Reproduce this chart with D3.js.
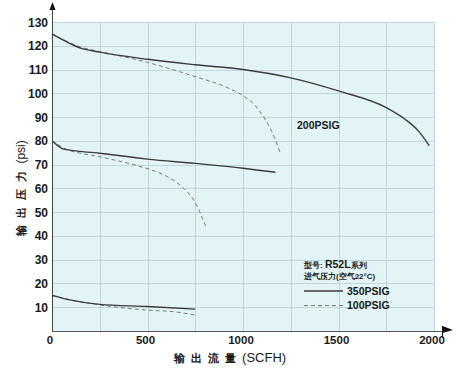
<!DOCTYPE html>
<html>
<head>
<meta charset="utf-8">
<script src="https://cdn.jsdelivr.net/npm/d3@7"></script>
<style>
  body { margin: 0; background: #fff; }
  svg { display: block; font-family: "Liberation Sans", Arial, sans-serif; }
  .grid line { stroke: #c3d6de; stroke-width: 1px; }
  .tick-label { font-weight: bold; fill: #1a1a1a; }
  .s350 { fill: none; stroke: #3c3c3c; stroke-width: 1.4px; }
  .s100 { fill: none; stroke: #7a7a7a; stroke-width: 1px; stroke-dasharray: 4,3; }
</style>
</head>
<body>
<svg width="465" height="374"></svg>
<script>
// output flow (SCFH) / output pressure (psi)
var hi350Flow = [0, 80, 150, 250, 500, 750, 1000, 1250, 1500, 1750, 1850, 1920, 1975];
var hi350Psi  = [125, 121.5, 119, 117.3, 114.3, 112, 110, 106.5, 101, 94, 89, 84, 78];
var hi100Flow = [0, 80, 150, 250, 500, 750, 900, 1000, 1050, 1100, 1150, 1195];
var hi100Psi  = [125, 121.8, 119.5, 117.6, 113, 107, 103, 99, 96, 91, 84, 75];

var mid350Flow = [0, 30, 60, 250, 500, 750, 1000, 1170];
var mid350Psi  = [80, 78, 76.5, 74.8, 72.3, 70.5, 68.5, 66.8];
var mid100Flow = [0, 30, 60, 250, 450, 565, 620, 690, 750, 790, 810];
var mid100Psi  = [80, 78.5, 77, 73.3, 69.5, 66.4, 64.2, 60, 54, 47, 43];

var low350Flow = [0, 100, 250, 500, 750];
var low350Psi  = [15, 13, 11.2, 10.3, 9.2];
var low100Flow = [0, 100, 250, 400, 500, 650, 750];
var low100Psi  = [15, 13, 11, 9.5, 8.8, 8, 6.7];

var xTicks = [0, 500, 1000, 1500, 2000];
var yTicks = [10, 20, 30, 40, 50, 60, 70, 80, 90, 100, 110, 120, 130];

var svg = d3.select("svg");
var plotL = 52, plotR = 434, plotT = 22, plotB = 331;

var x = d3.scaleLinear().domain([0, 2000]).range([plotL, plotR]);
var y = d3.scaleLinear().domain([0, 130]).range([plotB, plotT]);

// plot background
svg.append("rect")
    .attr("x", plotL).attr("y", plotT)
    .attr("width", plotR - plotL).attr("height", plotB - plotT)
    .attr("fill", "#e3f4f6");

var grid = svg.append("g").attr("class", "grid");
grid.selectAll(".v").data(d3.range(250, 2001, 250)).enter().append("line")
    .attr("x1", function(d) { return Math.round(x(d)) + 0.5; })
    .attr("x2", function(d) { return Math.round(x(d)) + 0.5; })
    .attr("y1", plotT).attr("y2", plotB);
grid.selectAll(".h").data(yTicks).enter().append("line")
    .attr("x1", plotL).attr("x2", plotR)
    .attr("y1", function(d) { return Math.round(y(d)) + 0.5; })
    .attr("y2", function(d) { return Math.round(y(d)) + 0.5; });

// axes
svg.append("line")
    .attr("x1", plotL + 0.5).attr("x2", plotL + 0.5)
    .attr("y1", 9).attr("y2", plotB)
    .attr("stroke", "#444").attr("stroke-width", 1);
svg.append("path")
    .attr("d", "M" + (plotL - 2.5) + ",10 L" + (plotL + 0.5) + ",2 L" + (plotL + 3.5) + ",10 Z")
    .attr("fill", "#111");
svg.append("line")
    .attr("x1", plotL).attr("x2", 443)
    .attr("y1", plotB + 0.5).attr("y2", plotB + 0.5)
    .attr("stroke", "#555").attr("stroke-width", 1);
svg.append("path")
    .attr("d", "M442.5,326 L453,330 L442.5,333 Z")
    .attr("fill", "#111");
svg.append("line")
    .attr("x1", 442.5).attr("x2", 442.5)
    .attr("y1", 326).attr("y2", 338)
    .attr("stroke", "#111");

// tick labels
svg.selectAll(".ylab").data(yTicks).enter().append("text")
    .attr("class", "tick-label")
    .attr("font-size", "12px")
    .attr("x", 48)
    .attr("y", function(d) { return y(d) + 4.5; })
    .attr("text-anchor", "end")
    .text(function(d) { return d; });
svg.selectAll(".xlab").data(xTicks).enter().append("text")
    .attr("class", "tick-label")
    .attr("font-size", "11.5px")
    .attr("x", function(d) { return x(d) - 2; })
    .attr("y", 344)
    .attr("text-anchor", "middle")
    .text(function(d) { return d; });

// axis titles
var xt = svg.append("text")
    .attr("x", 230).attr("y", 362)
    .attr("text-anchor", "middle")
    .attr("fill", "#1a1a1a");
xt.append("tspan").attr("font-size", "11px").attr("font-weight", "bold")
    .attr("letter-spacing", "1.5px").text("输 出 流 量 ");
xt.append("tspan").attr("font-size", "13px").text("(SCFH)");

var yt = svg.append("text")
    .attr("transform", "translate(25,188) rotate(-90)")
    .attr("text-anchor", "middle")
    .attr("fill", "#1a1a1a");
yt.append("tspan").attr("font-size", "11px").attr("font-weight", "bold")
    .attr("letter-spacing", "2px").text("输 出 压 力 ");
yt.append("tspan").attr("font-size", "12px").text("(psi)");

// curves
var line = d3.line()
    .x(function(d) { return x(d[0]); })
    .y(function(d) { return y(d[1]); })
    .curve(d3.curveMonotoneX);

function series(flow, psi, cls) {
  svg.append("path")
      .datum(d3.zip(flow, psi))
      .attr("class", cls)
      .attr("d", line);
}
series(hi100Flow, hi100Psi, "s100");
series(mid100Flow, mid100Psi, "s100");
series(low100Flow, low100Psi, "s100");
series(hi350Flow, hi350Psi, "s350");
series(mid350Flow, mid350Psi, "s350");
series(low350Flow, low350Psi, "s350");

svg.append("text")
    .attr("x", 297).attr("y", 129)
    .attr("font-size", "10.5px").attr("font-weight", "bold")
    .attr("fill", "#1a1a1a")
    .text("200PSIG");

// legend
var lg = svg.append("g").attr("fill", "#1a1a1a").attr("font-weight", "bold");
var l1 = lg.append("text").attr("x", 304).attr("y", 268);
l1.append("tspan").attr("font-size", "8px").text("型号: ");
l1.append("tspan").attr("font-size", "10.5px").text("R52L");
l1.append("tspan").attr("font-size", "8px").text("系列");
lg.append("text").attr("x", 304).attr("y", 279)
    .attr("font-size", "8px").text("进气压力(空气22°C)");

lg.append("line").attr("x1", 304).attr("x2", 343).attr("y1", 291).attr("y2", 291)
    .attr("class", "s350");
lg.append("text").attr("x", 347).attr("y", 295)
    .attr("font-size", "10.5px").text("350PSIG");
lg.append("line").attr("x1", 304).attr("x2", 343).attr("y1", 305.5).attr("y2", 305.5)
    .attr("class", "s100");
lg.append("text").attr("x", 347).attr("y", 309)
    .attr("font-size", "10.5px").text("100PSIG");
</script>
</body>
</html>
